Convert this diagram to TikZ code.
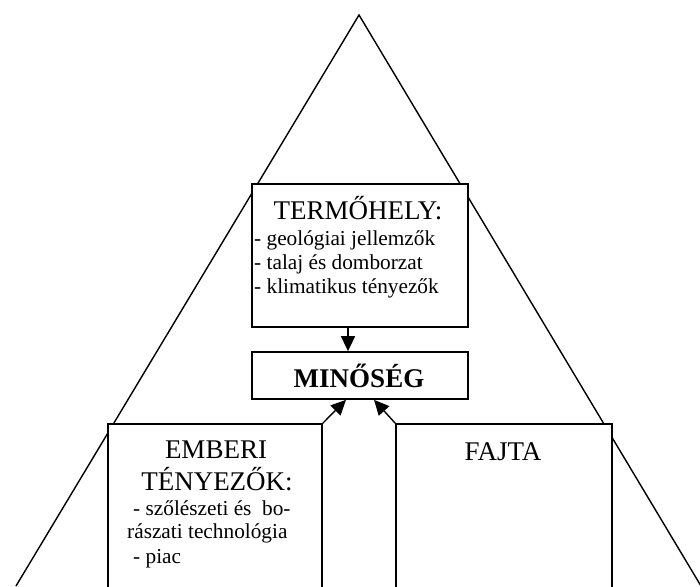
\documentclass[tikz,border=0pt]{standalone}
\usepackage{fontspec}
\setmainfont{Liberation Serif}
\usetikzlibrary{arrows.meta}
\begin{document}
\begin{tikzpicture}[x=1pt,y=-1pt,
  box/.style={draw,line width=1.7pt,fill=white,rectangle,inner sep=0pt},
  head/.style={inner sep=0pt,anchor=base,font=\fontsize{27}{30}\selectfont},
  body/.style={inner sep=0pt,anchor=base west,font=\fontsize{21.3}{24}\selectfont},
  tri/.style={line width=1.4pt},
  arr/.style={line width=1.4pt,-{Triangle[length=15pt,width=14pt]}}]
\useasboundingbox (0,0) rectangle (700,586);
\clip (0,0) rectangle (700,586);
\coordinate (apex) at (359,15);
\coordinate (bl) at (16,586);
\coordinate (br) at (701,586);
\draw[tri] (bl) -- (apex) -- (br);
% boxes
\node[box,minimum width=216pt,minimum height=143pt] (term) at (360,255.5) {};
\node[box,minimum width=216pt,minimum height=47pt] (min) at (360,375.5) {};
\node[box,minimum width=214pt,minimum height=190pt] (emb) at (215,519) {};
\node[box,minimum width=216pt,minimum height=190pt] (faj) at (504,519) {};
% texts
\node[head] (t1) at (358,219) {TERMŐHELY:};
\node[body] (t2) at (254,245) {- geológiai jellemzők};
\node[body] (t3) at (254,269) {- talaj és domborzat};
\node[body] (t4) at (254,293) {- klimatikus tényezők};
\node[head,font=\fontsize{27}{30}\selectfont\bfseries] (m1) at (359,387) {MINŐSÉG};
\node[head] (e1) at (216,458) {EMBERI};
\node[head] (e2) at (217,490) {TÉNYEZŐK:};
\node[body] (e3) at (133,515) {- szőlészeti és\ \ bo-};
\node[body] (e4) at (127,538) {rászati technológia};
\node[body] (e5) at (133,563) {- piac};
\node[head] (f1) at (503,460) {FAJTA};
% arrows
\draw[arr] ([xshift=-12pt]term.south) -- ([xshift=-12pt]min.north);
\draw[arr] (emb.north east) -- ([xshift=-14pt]min.south);
\draw[arr] (faj.north west) -- ([xshift=14pt]min.south);
\end{tikzpicture}
\end{document}
